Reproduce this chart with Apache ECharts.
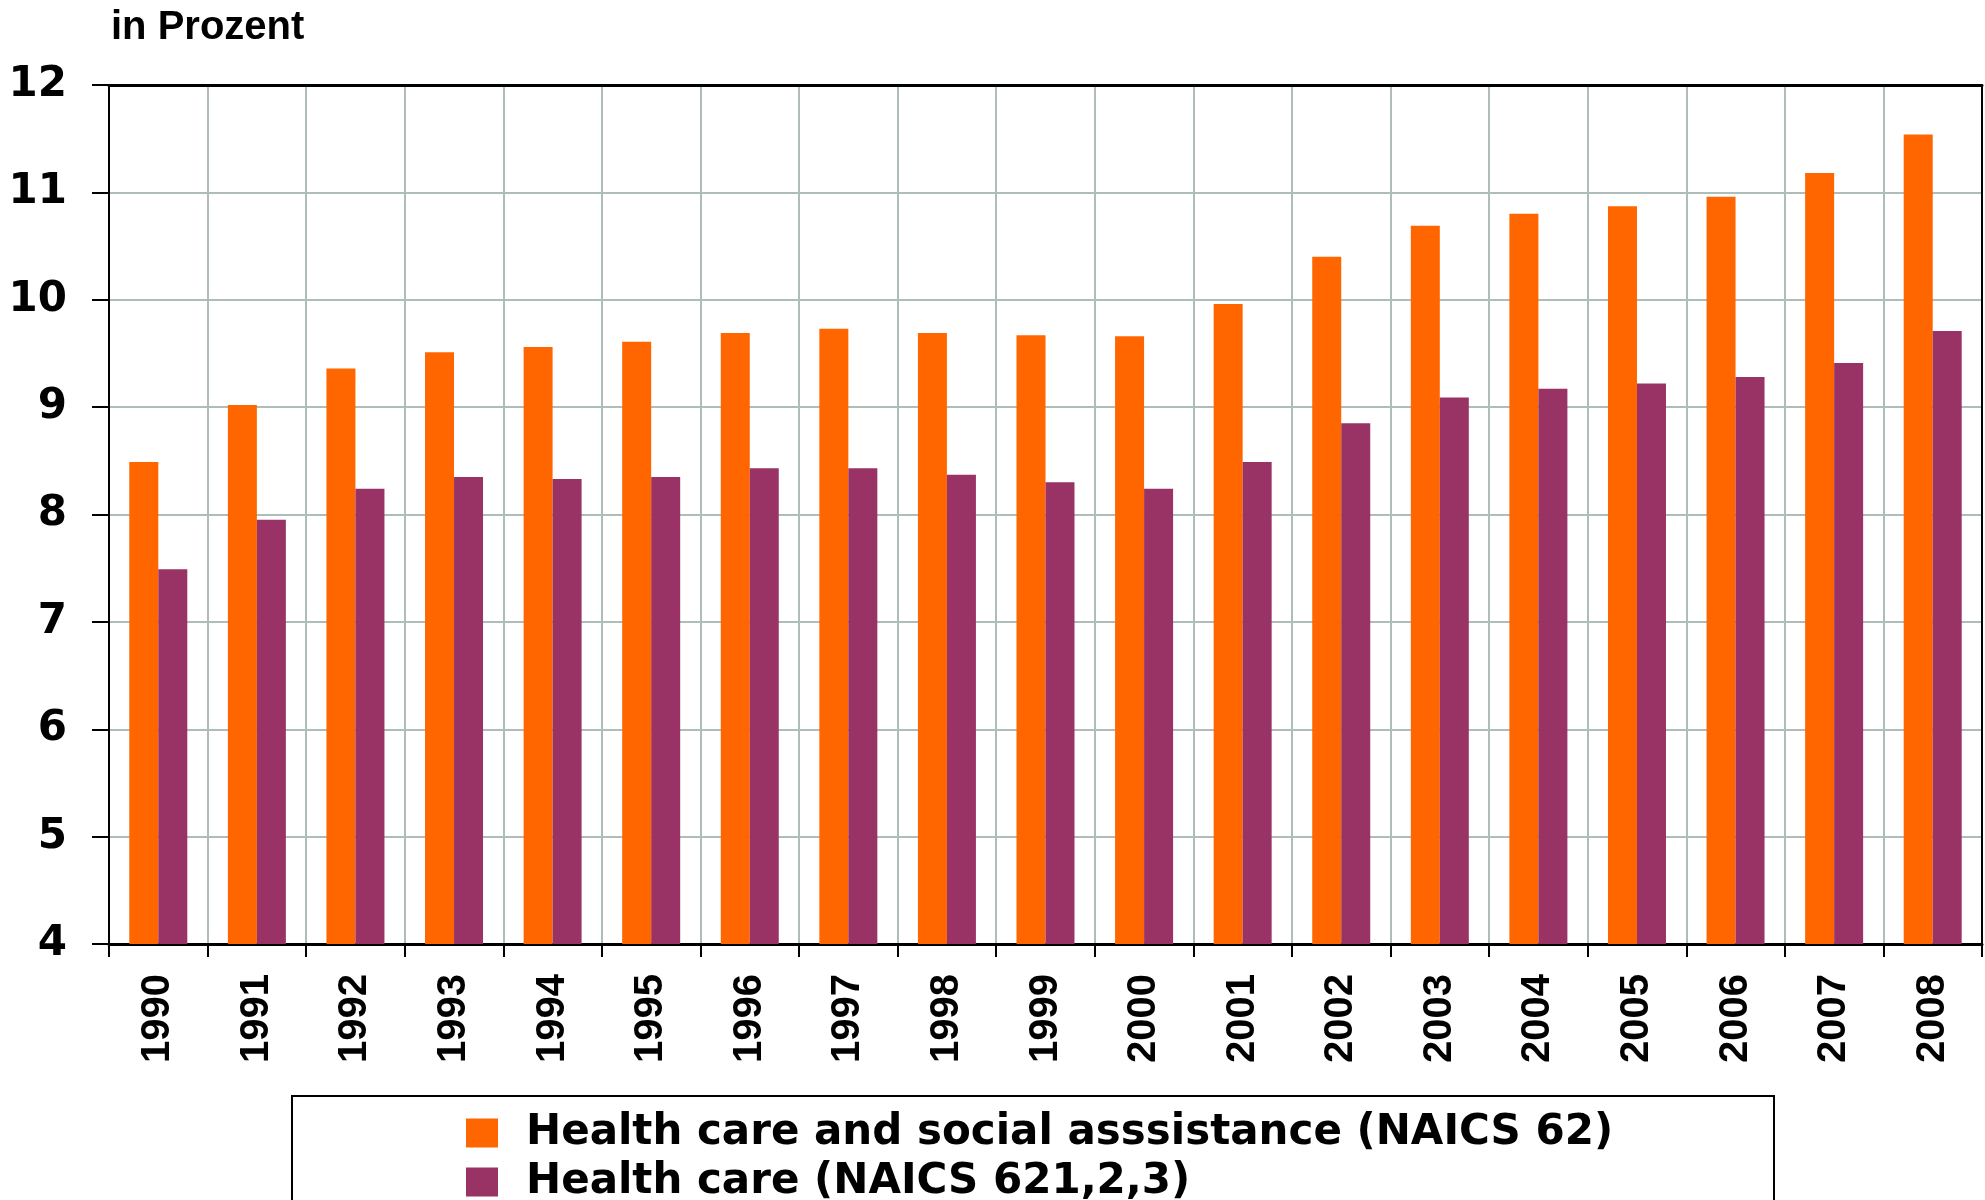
<!DOCTYPE html>
<html>
<head>
<meta charset="utf-8">
<script src="https://cdn.jsdelivr.net/npm/echarts@6/dist/echarts.min.js"></script>
<style>html,body{margin:0;padding:0;background:#fff}#c{width:1985px;height:1200px}</style>
</head>
<body>
<div id="c"></div>
<script>
var years = ['1990','1991','1992','1993','1994','1995','1996','1997','1998','1999','2000','2001','2002','2003','2004','2005','2006','2007','2008'];
var healthSocial = [8.49, 9.02, 9.36, 9.51, 9.56, 9.61, 9.69, 9.73, 9.69, 9.67, 9.66, 9.96, 10.40, 10.69, 10.80, 10.87, 10.96, 11.18, 11.54];
var healthCare = [7.49, 7.95, 8.24, 8.35, 8.33, 8.35, 8.43, 8.43, 8.37, 8.30, 8.24, 8.49, 8.85, 9.09, 9.17, 9.22, 9.28, 9.41, 9.71];
var seriesNames = ['Health care and social asssistance (NAICS 62)', 'Health care (NAICS 621,2,3)'];
var yTitle = 'in Prozent';

var chart = echarts.init(document.getElementById('c'));
var gridColor = '#aebdb8';
var legendText = { fontFamily: 'DejaVu Sans', fontWeight: 'bold', fontSize: 42, color: '#000', lineHeight: 29, padding: [0, 0, 0, 23] };
chart.setOption({
  animation: false,
  backgroundColor: '#fff',
  title: {
    text: yTitle, left: 106, top: 3,
    textStyle: { fontFamily: 'Liberation Sans', fontWeight: 'bold', fontSize: 40, color: '#000' }
  },
  grid: { left: 109, right: 3, top: 85, bottom: 256 },
  legend: [{
    left: 466, top: 1112, padding: 0,
    itemWidth: 32, itemHeight: 29, icon: 'rect',
    textStyle: legendText,
    data: [seriesNames[0]]
  }, {
    left: 466, top: 1161, padding: 0,
    itemWidth: 32, itemHeight: 29, icon: 'rect',
    textStyle: legendText,
    data: [seriesNames[1]]
  }],
  graphic: [{
    type: 'rect', z: 0,
    shape: { x: 292, y: 1096, width: 1482, height: 200 },
    style: { fill: 'none', stroke: '#000', lineWidth: 2 }
  }],
  xAxis: [{
    type: 'category', data: years,
    axisLine: { lineStyle: { color: '#000', width: 3 } },
    axisTick: { show: true, length: 13, lineStyle: { color: '#000', width: 2 } },
    splitLine: { show: true, interval: 0, lineStyle: { color: gridColor, width: 2 } },
    axisLabel: { interval: 0, rotate: 90, margin: 30, fontFamily: 'Liberation Sans', fontWeight: 'bold', fontSize: 40, color: '#000' }
  }, {
    type: 'category', data: years, position: 'top',
    axisLine: { show: true, lineStyle: { color: '#000', width: 3 } },
    axisTick: { show: false }, axisLabel: { show: false }, splitLine: { show: false }
  }],
  yAxis: [{
    type: 'value', min: 4, max: 12, interval: 1,
    axisLine: { show: true, lineStyle: { color: '#000', width: 2 } },
    axisTick: { show: true, length: 17, lineStyle: { color: '#000', width: 2 } },
    splitLine: { show: true, lineStyle: { color: gridColor, width: 2 } },
    axisLabel: { margin: 42, fontFamily: 'DejaVu Sans', fontWeight: 'bold', fontSize: 42, color: '#000' }
  }, {
    type: 'value', min: 4, max: 12, interval: 1, position: 'right',
    axisLine: { show: true, lineStyle: { color: '#000', width: 2 } },
    axisTick: { show: false }, axisLabel: { show: false }, splitLine: { show: false }
  }],
  series: [
    { name: seriesNames[0], type: 'bar', data: healthSocial, barWidth: 29, barGap: '0%', itemStyle: { color: '#ff6600' } },
    { name: seriesNames[1], type: 'bar', data: healthCare, barWidth: 29, barGap: '0%', itemStyle: { color: '#993366' } }
  ]
});
</script>
</body>
</html>
